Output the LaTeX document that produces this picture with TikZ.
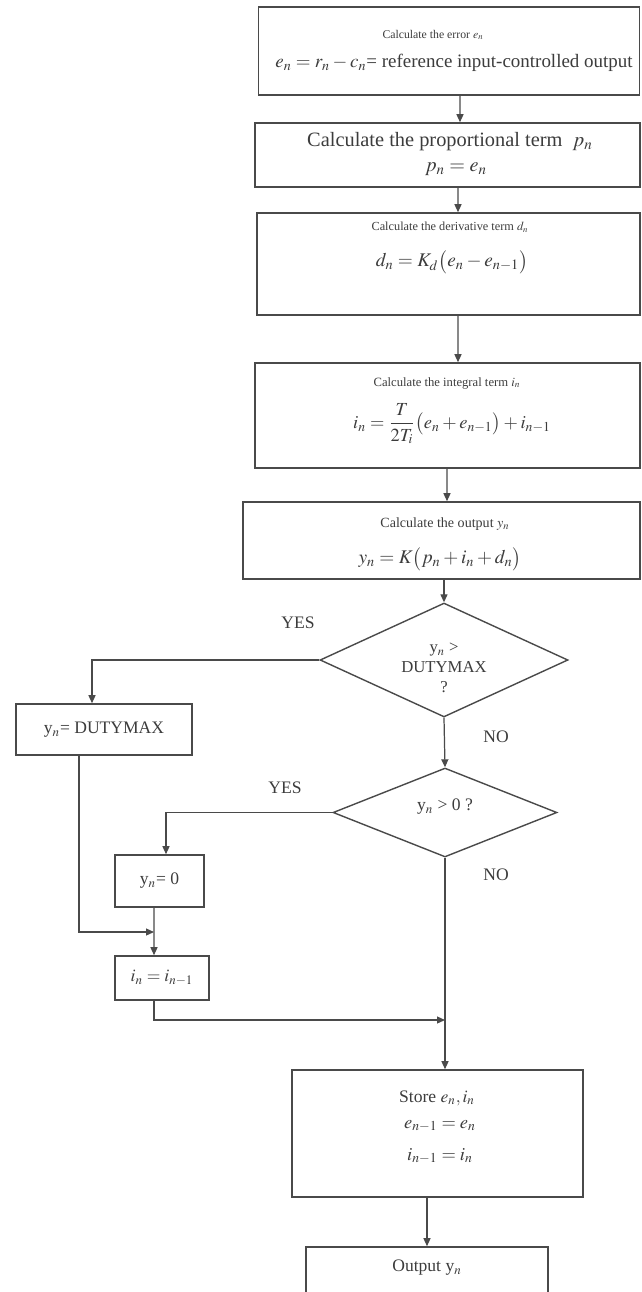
\documentclass[tikz,border=0pt]{standalone}
\usepackage{amsmath}
\usepackage{mathptmx}
\usepackage{fontspec}
\setmainfont{Liberation Serif}
\usetikzlibrary{arrows.meta,shapes.geometric}

\definecolor{ink}{HTML}{4A4A4A}
\definecolor{txt}{HTML}{3C3C3C}

\tikzset{
  box/.style={draw=ink,line width=0.9pt,inner sep=0pt},
  decide/.style={diamond,draw=ink,line width=0.8pt,inner sep=0pt,aspect=2},
  arr/.style={draw=ink,line width=0.7pt,-{Triangle[length=1.6mm,width=1.4mm]}},
  wire/.style={draw=ink,line width=0.7pt},
  lbl/.style={text=txt,inner sep=0pt,align=center}
}
\newcommand{\fs}[1]{\fontsize{#1}{#1}\selectfont}

\begin{document}
\begin{tikzpicture}[x=0.02cm,y=-0.02cm]

    \useasboundingbox (0,0) rectangle (642,1292);

    % Error
    \node[box,minimum width=7.62cm,minimum height=1.76cm] (err) at (449,51) {};
    \node[lbl,font=\fs{6.7}] (errA) at (433,35) {Calculate the error $e_n$};
    \node[lbl,font=\fs{10.8}] (errB) at (454,63) {$e_n = r_n - c_n$= reference input-controlled output};

    % Proportional term
    \node[box,minimum width=7.70cm,minimum height=1.28cm] (prop) at (447.5,155) {};
    \node[lbl,font=\fs{11.6}] (propA) at (450,142) {Calculate the proportional term \ $p_n$};
    \node[lbl,font=\fs{11.5}] (propB) at (456,169) {$p_n = e_n$};

    % Derivative term
    \node[box,minimum width=7.66cm,minimum height=2.04cm] (deriv) at (448.5,264) {};
    \node[lbl,font=\fs{7}] (derivA) at (450,227) {Calculate the derivative term $d_n$};
    \node[lbl,font=\fs{11}] (derivB) at (452,262) {$d_n = K_d\bigl(e_n - e_{n-1}\bigr)$};

    % Integral term
    \node[box,minimum width=7.70cm,minimum height=2.10cm] (integ) at (447.5,415.5) {};
    \node[lbl,font=\fs{7.2}] (integA) at (447,383) {Calculate the integral term $i_n$};
    \node[lbl,font=\fs{10.5}] (integB) at (452,424) {$i_n = \dfrac{T}{2T_i}\bigl(e_n + e_{n-1}\bigr) + i_{n-1}$};

    % Output
    \node[box,minimum width=7.94cm,minimum height=1.54cm] (outp) at (441.5,540.5) {};
    \node[lbl,font=\fs{8}] (outpA) at (445,524) {Calculate the output $y_n$};
    \node[lbl,font=\fs{11}] (outpB) at (440,559) {$y_n = K\bigl(p_n + i_n + d_n\bigr)$};

    % Decisions
    \node[decide,minimum width=4.96cm,minimum height=2.28cm] (dia1) at (444,660) {};
    \node[lbl,font=\fontsize{9.5}{11.3}\selectfont] (dia1t) at (444,668) {y$_n$ >\\DUTYMAX\\?};
    \node[decide,minimum width=4.48cm,minimum height=1.78cm] (dia2) at (445,812.5) {};
    \node[lbl,font=\fs{10}] (dia2t) at (445,807) {y$_n$ > 0 ?};

    % Clamping
    \node[box,lbl,minimum width=3.52cm,minimum height=1.02cm,font=\fs{10}] (dmax) at (104,729.5) {y$_n$= DUTYMAX};
    \node[box,lbl,minimum width=1.78cm,minimum height=1.04cm,font=\fs{10}] (zero) at (159.5,881) {y$_n$= 0};
    \node[box,lbl,minimum width=1.88cm,minimum height=0.88cm,font=\fs{10}] (ihold) at (162,978) {$i_n = i_{n-1}$};

    % Store and output
    \node[box,minimum width=5.82cm,minimum height=2.54cm] (store) at (437.5,1133.5) {};
    \node[lbl,font=\fs{10}] (storeA) at (437,1098) {Store $e_n, i_n$};
    \node[lbl,font=\fs{10.5}] (storeB) at (440,1126) {$e_{n-1} = e_n$};
    \node[lbl,font=\fs{10.5}] (storeC) at (440,1156) {$i_{n-1} = i_n$};
    \node[box,minimum width=4.84cm,minimum height=1.30cm] (final) at (427,1279.5) {};
    \node[lbl,font=\fs{10}] (finalt) at (427,1268) {Output y$_n$};

    % Branch labels
    \node[lbl,font=\fs{10}] (yes1) at (298,623) {YES};
    \node[lbl,font=\fs{10}] (yes2) at (285,788) {YES};
    \node[lbl,font=\fs{10}] (no1) at (496,737) {NO};
    \node[lbl,font=\fs{10}] (no2) at (496,875) {NO};

    \coordinate (join) at (154,932);
    \coordinate (merge) at (445,1020);

    % Main chain
    \draw[arr] ([xshift=0.22cm]err.south) -- ([xshift=0.25cm]prop.north);
    \draw[arr] ([xshift=0.21cm]prop.south) -- ([xshift=0.19cm]deriv.north);
    \draw[arr] ([xshift=0.19cm]deriv.south) -- ([xshift=0.21cm]integ.north);
    \draw[arr] ([xshift=-0.01cm]integ.south) -- ([xshift=0.11cm]outp.north);
    \draw[arr] (outp.south -| dia1.north) -- (dia1.north);
    \draw[arr] (dia1.south) -- (dia2.north);

    % YES branches
    \draw[arr] (dia1.west) -| ([xshift=-0.24cm]dmax.north);
    \draw[arr] (dia2.west) -| ([xshift=0.13cm]zero.north);
    \draw[arr] ([xshift=-0.5cm]dmax.south) |- (join);
    \draw[arr] ([xshift=-0.11cm]zero.south) -- ([xshift=-0.16cm]ihold.north);
    \draw[arr] ([xshift=-0.16cm]ihold.south) |- (merge);

    % NO branch down to store
    \draw[arr] (dia2.south) -- (dia2.south |- store.north);
    \draw[arr] (store.south -| final.north) -- (final.north);

\end{tikzpicture}
\end{document}
